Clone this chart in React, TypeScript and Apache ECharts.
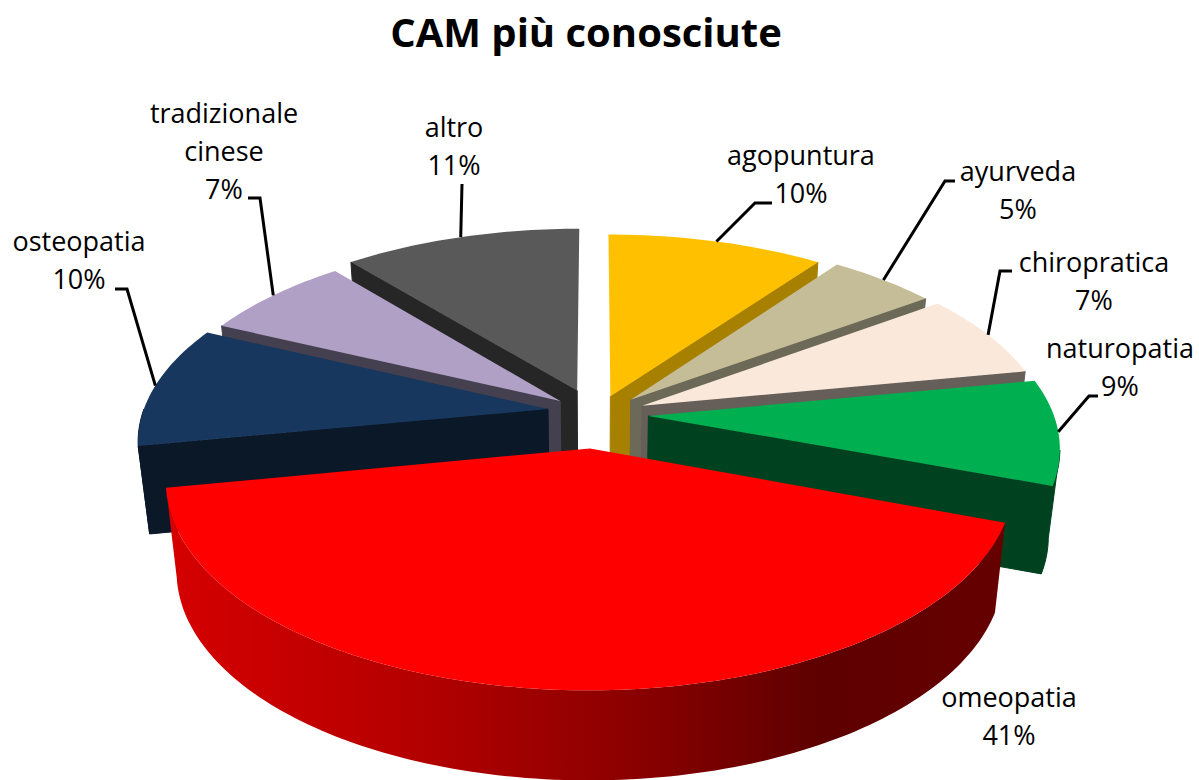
import React, { useEffect, useRef } from "react";
import * as echarts from "echarts";

// ---- data ----
const categories = ["agopuntura", "ayurveda", "chiropratica", "naturopatia", "omeopatia", "osteopatia", "tradizionale\ncinese", "altro"];
const values = [10, 5, 7, 8.6, 41.4, 10, 7, 11];

// ---- style ----
const topColors = ["#FFC000", "#C4BD97", "#FAE9DB", "#00B050", "#FF0000", "#17375E", "#B0A0C6", "#595959"];
const sideColors = ["#A88000", "#6C6958", "#665E58", "#00421F", "#990000", "#0A1828", "#45404F", "#262626"];
const explode = [0.121, 0.121, 0.121, 0.121, 0.19, 0.121, 0.121, 0.121];
const sliceNudge = [[-1, 6], [0, 4], [1, 3], [3, 2], [0, -1], [0, 0], [2, 3], [-3, 0]];
const sliceRadius = [1, 1, 1, 1, 1.005, 1, 1, 1];
const sliceDepth = [88, 88, 88, 88, 90, 88, 88, 88];
const labelCenters = [[801, 173], [1018, 189], [1094, 280], [1120, 366], [1009, 715], [79, 259], [224, 150], [454, 145]];
const leaderElbows: number[][][] = [
  [[755, 203], [772, 203]],
  [[945, 181], [955, 181]],
  [[1000, 271], [1012, 271]],
  [[1089, 396], [1098, 396]],
  [],
  [[127, 289], [115, 289]],
  [[260, 198], [248, 198]],
  [[462, 184]],
];

const CX = 596.5, CY = 412, RX = 405, RY = 192, P = 0.15, SHRINK = 0.975;
const WALL_FROM = (100 / 180) * Math.PI, WALL_TO = (Math.PI * 3) / 2;
const total = values.reduce((a, b) => a + b, 0);
const FONT = "'Open Sans'";

function project(X: number, Y: number) {
  const s = 1 / (1 + P * Y);
  return [CX + RX * X * s, CY - RY * Y * s];
}

function sliceGeometry(i: number) {
  let before = 0;
  for (let k = 0; k < i; k++) before += values[k];
  const a0 = (before / total) * Math.PI * 2;
  const a1 = ((before + values[i]) / total) * Math.PI * 2;
  const m = (a0 + a1) / 2;
  const e = explode[i];
  const ox = e * Math.sin(m), oy = e * Math.cos(m);
  const [nx, ny] = sliceNudge[i];
  const at = (a: number, r = sliceRadius[i]) => {
    const p = project(r * Math.sin(a) + ox, r * Math.cos(a) + oy);
    return [p[0] + nx, p[1] + ny];
  };
  const sample = (from: number, to: number) => {
    const pts: number[][] = [];
    const n = Math.max(8, Math.ceil((to - from) / 0.02));
    for (let k = 0; k <= n; k++) pts.push(at(from + ((to - from) * k) / n));
    return pts;
  };
  // the outer wall only shows on the part of the rim that faces the viewer
  const frontFrom = Math.max(a0, WALL_FROM);
  const frontTo = Math.min(a1, WALL_TO);
  return {
    a0, a1, m,
    apex: at(0, 0),
    arc: sample(a0, a1),
    wall: frontTo > frontFrom ? sample(frontFrom, frontTo) : [],
    mid: at(m),
  };
}

const depthRank = values
  .map((_, i) => i)
  .sort((p, q) => Math.cos(sliceGeometry(q).m) - Math.cos(sliceGeometry(p).m))
  .reduce((acc: number[], idx, rank) => { acc[idx] = rank; return acc; }, []);

function renderSlice(params: any) {
  const i = params.dataIndex;
  const g = sliceGeometry(i);
  const base = (depthRank[i] + 1) * 10;
  const side = sideColors[i];
  const lower = (p: number[]) => [CX + (p[0] - CX) * SHRINK, p[1] + sliceDepth[i]];
  const apexLow = lower(g.apex);
  const first = g.arc[0], last = g.arc[g.arc.length - 1];
  const wallFill: any = i === 4
    ? new echarts.graphic.LinearGradient(0, 0, 1, 0, [
        { offset: 0, color: "#D60000" },
        { offset: 0.3, color: "#B40000" },
        { offset: 0.55, color: "#8C0000" },
        { offset: 0.78, color: "#5E0000" },
        { offset: 1, color: "#660000" },
      ])
    : side;
  const poly = (points: number[][], fill: any, z: number, seam = true) => ({
    type: "polygon",
    shape: { points },
    style: { fill, stroke: seam ? fill : "none", lineWidth: seam ? 1 : 0 },
    z2: base + z,
    silent: true,
  });
  const children: any[] = [];
  if (g.a0 > Math.PI) children.push(poly([g.apex, first, lower(first), apexLow], side, 0));
  if (g.a1 < Math.PI) children.push(poly([g.apex, last, lower(last), apexLow], side, 1));
  if (g.wall.length) children.push(poly([...g.wall, ...g.wall.map(lower).reverse()], wallFill, 2, i !== 4));
  children.push(poly([g.apex, ...g.arc], topColors[i], 3, false));
  const [lx, ly] = labelCenters[i];
  const elbows = leaderElbows[i];
  if (elbows.length) {
    children.push({
      type: "polyline",
      shape: { points: [g.mid, ...elbows] },
      style: { fill: "none", stroke: "#000", lineWidth: 3 },
      z2: 200,
      silent: true,
    });
  }
  const pct = Math.round((values[i] / total) * 100);
  children.push({
    type: "text",
    style: {
      text: `${categories[i]}\n${pct}%`,
      x: lx,
      y: ly,
      align: "center",
      verticalAlign: "middle",
      font: `27px ${FONT}`,
      lineHeight: 38,
      fill: "#000",
    },
    z2: 300,
    silent: true,
  });
  return { type: "group", children };
}

export default function App() {
  const ref = useRef<HTMLDivElement>(null);
  useEffect(() => {
    const chart = echarts.init(ref.current!, undefined, { renderer: "svg" });
    chart.setOption({
      animation: false,
      backgroundColor: "#fff",
      title: {
        text: "CAM più conosciute",
        left: 581,
        top: 6,
        textAlign: "center",
        textStyle: { fontFamily: FONT, fontWeight: "bold", fontSize: 40, color: "#000" },
      },
      series: [
        {
          type: "custom",
          coordinateSystem: "none",
          renderItem: renderSlice,
          clip: false,
          data: values.map((v, i) => ({ name: categories[i], value: v })),
        },
      ],
    });
    return () => chart.dispose();
  }, []);
  return <div ref={ref} style={{ position: "absolute", left: 0, top: 0, width: 1199, height: 780 }} />;
}
